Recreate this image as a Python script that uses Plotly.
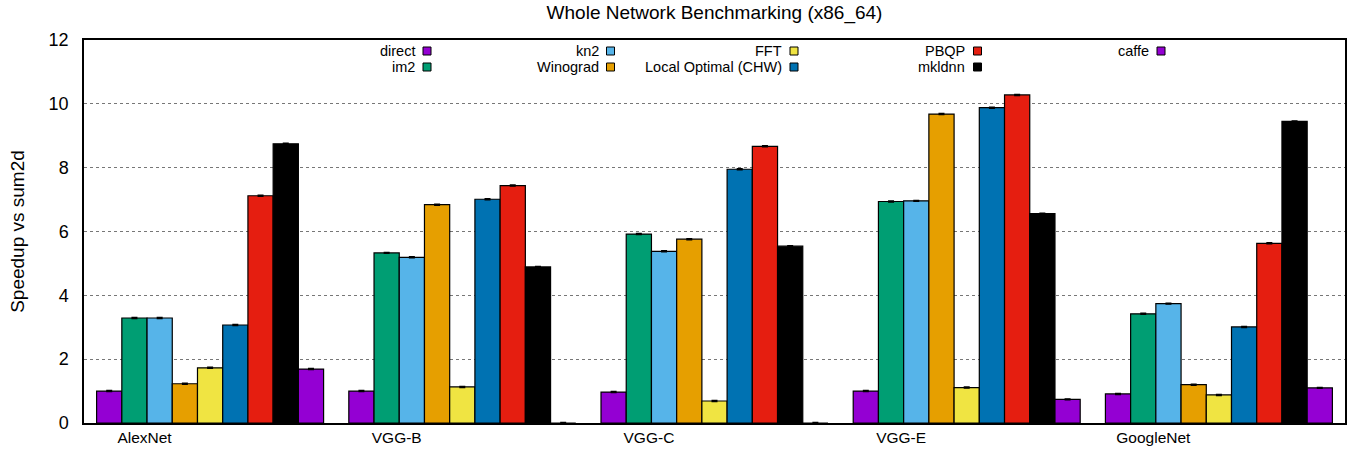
import plotly.graph_objects as go

networks = ["AlexNet", "VGG-B", "VGG-C", "VGG-E", "GoogleNet"]
series_names = ["direct", "im2", "kn2", "Winograd", "FFT",
                "Local Optimal (CHW)", "PBQP", "mkldnn", "caffe"]
colors = ["#9400D3", "#009E73", "#56B4E9", "#E69F00", "#F0E442",
          "#0072B2", "#E51E10", "#000000", "#9400D3"]

direct = [1.00, 1.00, 0.97, 1.00, 0.91]
im2 = [3.29, 5.33, 5.92, 6.94, 3.42]
kn2 = [3.29, 5.19, 5.38, 6.96, 3.74]
winograd = [1.23, 6.84, 5.76, 9.68, 1.20]
fft = [1.73, 1.13, 0.69, 1.11, 0.88]
local_optimal = [3.07, 7.01, 7.95, 9.88, 3.01]
pbqp = [7.12, 7.44, 8.67, 10.28, 5.63]
mkldnn = [8.75, 4.89, 5.54, 6.56, 9.45]
caffe = [1.69, 0.0, 0.0, 0.74, 1.10]
errors = [0.015, 0.015, 0.015, 0.015, 0.015]

values = [direct, im2, kn2, winograd, fft, local_optimal, pbqp, mkldnn, caffe]
xpos = list(range(len(networks)))

FONT = "Liberation Sans, Arial, sans-serif"
L, R, T, B = 84, 19, 40, 33
W, H = 1364, 456
pw, ph = W - L - R, H - T - B

fig = go.Figure()
for name, col, vals in zip(series_names, colors, values):
    fig.add_trace(go.Bar(
        x=xpos, y=vals, name=name,
        marker=dict(color=col, line=dict(color="black", width=1.2)),
        error_y=dict(type="data", array=errors, color="black", thickness=1.5, width=3),
        showlegend=False,
    ))

# custom gnuplot-style key (text right-justified, sample box on the right)
shapes = []
annotations = []
for k, (name, col) in enumerate(zip(series_names, colors)):
    c, r = k // 2, k % 2
    sq_cx = 427 + 183.5 * c
    sq_cy = 51 + 16 * r
    x0 = (sq_cx - 4 - L) / pw
    x1 = (sq_cx + 4 - L) / pw
    y0 = (H - B - (sq_cy + 4)) / ph
    y1 = (H - B - (sq_cy - 4)) / ph
    shapes.append(dict(type="rect", xref="paper", yref="paper",
                       x0=x0, x1=x1, y0=y0, y1=y1,
                       fillcolor=col, line=dict(color="black", width=1)))
    annotations.append(dict(xref="paper", yref="paper",
                            x=(sq_cx - 10 - L) / pw, y=(H - B - sq_cy) / ph,
                            text=name, showarrow=False, xanchor="right",
                            yanchor="middle",
                            font=dict(family=FONT, size=14.5, color="black")))

fig.update_layout(
    width=W, height=H,
    margin=dict(l=L, r=R, t=T, b=B, autoexpand=False),
    plot_bgcolor="white", paper_bgcolor="white",
    barmode="group", bargap=0.1, bargroupgap=0,
    title=dict(text="Whole Network Benchmarking (x86_64)", x=(L + pw / 2) / W,
               xanchor="center", y=1 - 12 / H, yanchor="middle",
               font=dict(family=FONT, size=19, color="black")),
    font=dict(family=FONT, size=16, color="black"),
    shapes=shapes, annotations=annotations,
    xaxis=dict(range=[-0.5, 4.5], tickvals=[v - 0.26 for v in xpos],
               ticktext=networks, showgrid=False, zeroline=False,
               showline=True, mirror=True, linecolor="black", linewidth=1.5,
               ticks="", automargin=False, tickfont=dict(family=FONT, size=15.5)),
    yaxis=dict(range=[0, 12], tickvals=[0, 2, 4, 6, 8, 10, 12],
               showgrid=True, gridcolor="#777777", griddash="dot", gridwidth=1,
               zeroline=False, showline=True, mirror=True, linecolor="black",
               linewidth=1.5, ticks="", ticklabelstandoff=10, automargin=False,
               tickfont=dict(family=FONT, size=18),
               title=dict(text="Speedup vs sum2d", standoff=19,
                          font=dict(family=FONT, size=19))),
)

fig.write_html("out.html", config={"displayModeBar": False},
               post_script="document.body.style.margin='0';")
